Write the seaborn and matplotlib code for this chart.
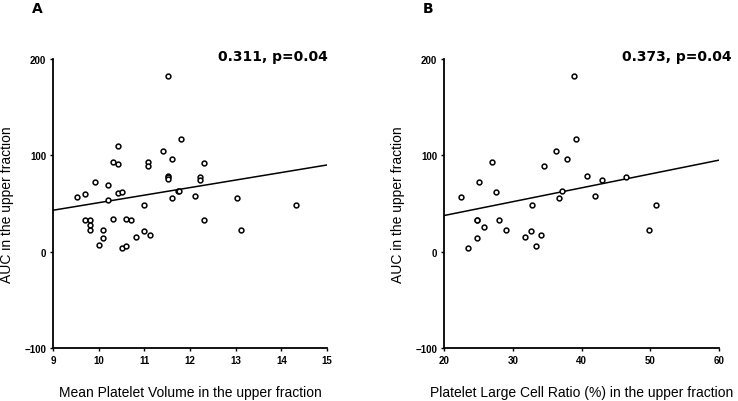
"""Two-panel scatter: AUC in the upper fraction vs MPV and P-LCR."""

import matplotlib
matplotlib.use("Agg")
import matplotlib.pyplot as plt
import seaborn as sns

# Panel A: Mean Platelet Volume vs AUC
mpv_x = [9.52, 9.71, 9.92, 10.20, 10.20, 10.42, 10.31, 10.42, 10.42, 10.52,
         11.00, 11.09, 11.09, 11.40, 11.80, 11.61, 11.51, 11.51, 11.51, 11.61,
         11.73, 11.75, 12.12, 12.30, 12.22, 12.22, 12.30, 13.02, 13.11,
         9.70, 9.81, 9.81, 9.81, 10.10, 10.10, 10.01, 10.31, 10.60, 10.71,
         10.52, 10.60, 10.82, 11.00, 11.12, 14.33, 11.51]
mpv_auc = [57, 60, 72, 69, 54, 110, 93, 91, 61, 62,
           48, 93, 89, 104, 117, 96, 79, 77, 75, 56,
           63, 63, 58, 92, 77, 74, 33, 56, 23,
           33, 33, 28, 23, 23, 14, 7, 34, 34, 33,
           4, 6, 15, 21, 17, 48, 182]
mpv_fit_x = [9, 15]
mpv_fit_y = [43, 90]

# Panel B: Platelet Large Cell Ratio vs AUC
plcr_x = [22.47, 23.44, 25.13, 26.93, 27.51, 24.75, 24.85, 25.81, 24.84, 28.04,
          29.06, 31.73, 32.65, 32.79, 33.42, 34.05, 34.49, 36.28, 36.76, 37.20,
          37.83, 39.14, 40.74, 41.99, 43.01, 46.45, 49.75, 50.77, 38.90]
plcr_auc = [57, 4, 72, 93, 62, 33, 33, 26, 14, 33,
            23, 15, 21, 48, 6, 17, 89, 104, 56, 63,
            96, 117, 79, 58, 74, 77, 23, 48, 182]
plcr_fit_x = [20, 60]
plcr_fit_y = [37.5, 95]

y_ticks = [-100, 0, 100, 200]
mpv_ticks = [9, 10, 11, 12, 13, 14, 15]
plcr_ticks = [20, 30, 40, 50, 60]

sns.set_theme(style="ticks")
plt.rcParams["font.family"] = ["Liberation Sans", "DejaVu Sans"]
plt.rcParams["text.color"] = "black"
plt.rcParams["axes.labelcolor"] = "black"

fig = plt.figure(figsize=(7.38, 4.02), dpi=100)
ax_a = fig.add_axes([53 / 738, 1 - 349 / 402, 274 / 738, 289 / 402])
ax_b = fig.add_axes([444 / 738, 1 - 349 / 402, 275 / 738, 289 / 402])

panels = [
    (ax_a, mpv_x, mpv_auc, mpv_fit_x, mpv_fit_y, mpv_ticks,
     "Mean Platelet Volume in the upper fraction", 7),
    (ax_b, plcr_x, plcr_auc, plcr_fit_x, plcr_fit_y, plcr_ticks,
     "Platelet Large Cell Ratio (%) in the upper fraction", 398),
]

for ax, xs, ys, fx, fy, xticks, xlabel, ylab_px in panels:
    sns.lineplot(x=fx, y=fy, ax=ax, color="black", linewidth=1.1)
    sns.scatterplot(x=xs, y=ys, ax=ax, marker="o", s=12,
                    facecolor="white", edgecolor="black", linewidth=1.1,
                    zorder=3)
    ax.set_xlim(xticks[0], xticks[-1])
    ax.set_ylim(y_ticks[0], y_ticks[-1])
    ax.set_xticks(xticks)
    ax.set_yticks(y_ticks)
    ax.tick_params(length=2, width=1, pad=3, labelsize=7, colors="black")
    for lbl in ax.get_xticklabels() + ax.get_yticklabels():
        lbl.set_fontweight("bold")
    for side in ("top", "right"):
        ax.spines[side].set_visible(False)
    for side in ("left", "bottom"):
        ax.spines[side].set_linewidth(1.3)
        ax.spines[side].set_color("black")

    ax.set_xlabel(xlabel, fontsize=10, va="center")
    ax.xaxis.set_label_coords(0.5, -44 / 289)
    ax.set_ylabel("AUC in the upper fraction", fontsize=10, va="center")
    left_px = ax.get_position().x0 * 738
    width_px = ax.get_position().width * 738
    ax.yaxis.set_label_coords((ylab_px - left_px) / width_px, 0.5)

fig.text(328 / 738, 1 - 57 / 402, "0.311, p=0.04", ha="right", va="center",
         fontsize=10, fontweight="bold", family="DejaVu Sans")
fig.text(732 / 738, 1 - 57 / 402, "0.373, p=0.04", ha="right", va="center",
         fontsize=10, fontweight="bold", family="DejaVu Sans")
fig.text(37 / 738, 1 - 9 / 402, "A", ha="center", va="center",
         fontsize=10, fontweight="bold", family="DejaVu Sans")
fig.text(428 / 738, 1 - 9 / 402, "B", ha="center", va="center",
         fontsize=10, fontweight="bold", family="DejaVu Sans")

fig.savefig("out.png", dpi=100)
plt.close(fig)
